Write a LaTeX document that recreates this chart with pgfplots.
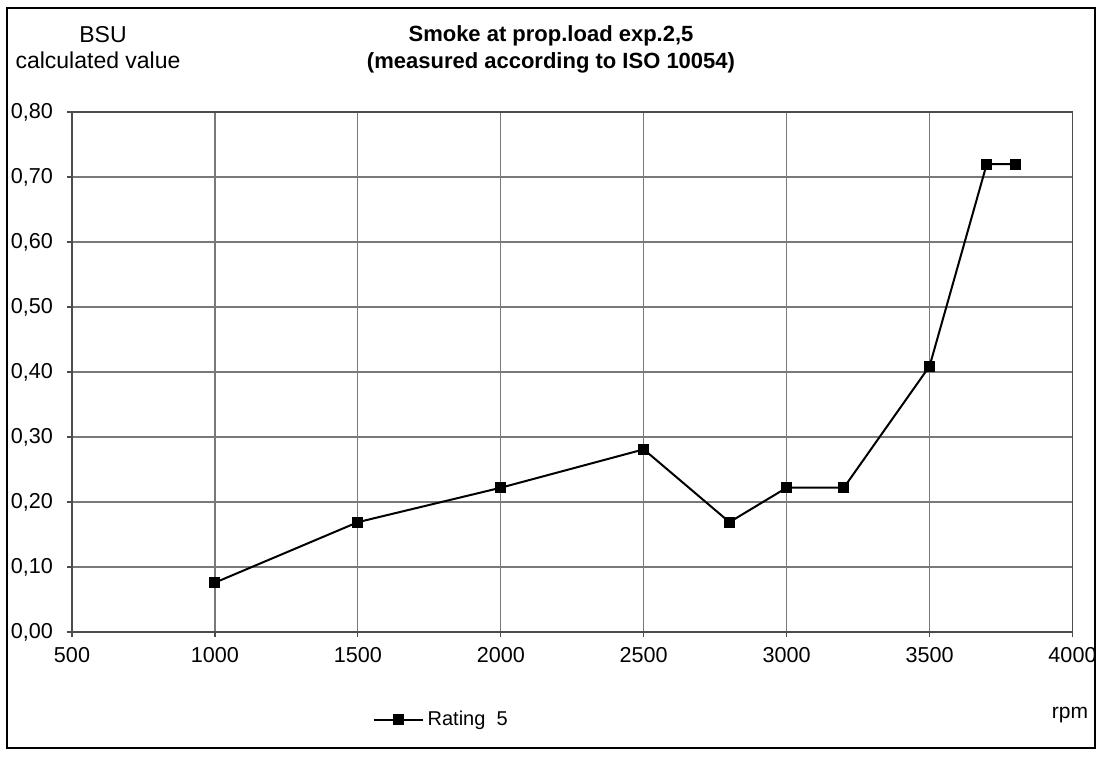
\documentclass[border=0pt]{standalone}
\usepackage{fontspec}
\setmainfont{Liberation Sans}
\usepackage{pgfplots}
\pgfplotsset{compat=1.18}
\begin{document}
\begin{tikzpicture}[x=1pt,y=1pt]
\useasboundingbox (0,0) rectangle (550.5,-378);
\draw[line width=0.7pt] (3.5,-4) rectangle (547.5,-374);
\begin{axis}[
  at={(36pt,-316pt)}, anchor=south west,
  scale only axis, width=500.25pt, height=260pt,
  xmin=500, xmax=4000, ymin=0, ymax=0.8,
  xtick={500,1000,1500,2000,2500,3000,3500,4000},
  ytick={0,0.1,0.2,0.3,0.4,0.5,0.6,0.7,0.8},
  xtick pos=bottom, ytick pos=left,
  grid=major,
  grid style={gray!95!black, line width=0.6pt},
  axis line style={gray!60!black, line width=0.6pt},
  tick style={gray!60!black, line width=0.6pt},
  tick align=outside, major tick length=2.5pt,
  /pgf/number format/assume math mode=true,
  every tick label/.append style={font=\fontsize{10.8}{13}\selectfont},
  yticklabel style={/pgf/number format/fixed, /pgf/number format/fixed zerofill,
    /pgf/number format/precision=2, /pgf/number format/use comma, xshift=-3.5pt},
  xticklabel style={/pgf/number format/1000 sep={}, yshift=-1.5pt},
  legend style={at={(0.37,-0.169)}, anchor=center, draw=none, fill=none,
    font=\fontsize{10}{12}\selectfont},
  legend image code/.code={\draw[mark repeat=2,mark phase=2,#1] plot coordinates {(0pt,0pt) (12.25pt,0pt) (24.5pt,0pt)};},
]
\addplot[black, line width=1pt, mark=square*, mark size=2.25pt, mark options={solid}]
  coordinates {(1000,0.076) (1500,0.169) (2000,0.222) (2500,0.281) (2800,0.169)
               (3000,0.222) (3200,0.222) (3500,0.409) (3700,0.72) (3800,0.72)};
\addlegendentry{Rating\ \ 5}
\end{axis}
\node[font=\fontsize{11.5}{14}\selectfont] at (51.5,-17.5) {BSU};
\node[font=\fontsize{11.5}{14}\selectfont] at (49,-30) {calculated value};
\node[font=\bfseries\fontsize{11}{13.5}\selectfont, align=center] at (275.5,-24.75)
  {Smoke at prop.load exp.2,5\\(measured according to ISO 10054)};
\node[font=\fontsize{10.5}{12}\selectfont] at (535,-357.5) {rpm};
\end{tikzpicture}
\end{document}
